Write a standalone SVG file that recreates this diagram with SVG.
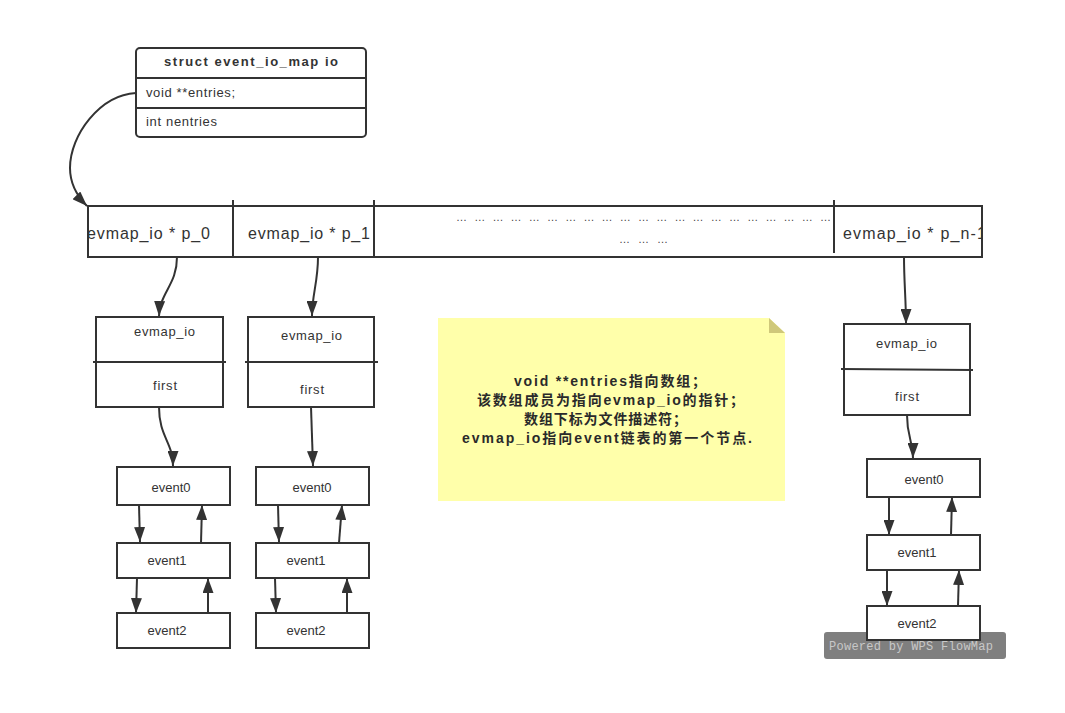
<svg xmlns="http://www.w3.org/2000/svg" width="1065" height="713" viewBox="0 0 1065 713">
<defs>
<style>
.box{fill:#fff;stroke:#333;stroke-width:2}
.ln{fill:none;stroke:#333;stroke-width:2}
.t{font-family:"Liberation Sans","Noto Sans CJK SC",sans-serif;fill:#333;font-size:13px}
.tb{font-weight:bold}
.nt{font-size:14px;fill:#2a2a2a}
.big{font-size:16px}
.mid{text-anchor:middle}
.dots{font-family:"Liberation Sans",sans-serif;fill:#444;font-size:11px}
.wm{font-family:"Liberation Mono",monospace;fill:#c8c8c8;font-size:12px}
.edge{fill:none;stroke:#333;stroke-width:2;marker-end:url(#ah)}
</style>
<marker id="ah" markerUnits="userSpaceOnUse" markerWidth="16" markerHeight="11" refX="15" refY="5.5" orient="auto">
<path d="M0,0 L15,5.5 L0,11 z" fill="#333"/>
</marker>
<clipPath id="arrclip"><rect x="89" y="207" width="892" height="49"/></clipPath>
</defs>
<rect x="0" y="0" width="1065" height="713" fill="#fff"/>

<g id="watermark">
<rect x="824" y="632" width="182" height="27" rx="3" fill="#7f7f7f"/>
<text class="wm" x="829" y="650" textLength="164" lengthAdjust="spacing">Powered by WPS FlowMap</text>
</g>

<g id="struct">
<rect class="box" x="136" y="48" width="230" height="89" rx="4"/>
<path class="ln" d="M136,78 L366,78 M136,108 L366,108"/>
<text class="t tb" x="164" y="66" textLength="174" lengthAdjust="spacing">struct event_io_map io</text>
<text class="t" x="146" y="97" textLength="89" lengthAdjust="spacing">void **entries;</text>
<text class="t" x="146" y="126" textLength="71" lengthAdjust="spacing">int nentries</text>
</g>

<g id="array">
<rect class="box" x="88" y="206" width="894" height="51"/>
<path class="ln" d="M233,200 L233,257 M374,200 L374,257 M834,200 L834,253"/>
<g clip-path="url(#arrclip)">
<text class="t big" x="87" y="239" textLength="123" lengthAdjust="spacing">evmap_io * p_0</text>
<text class="t big" x="248" y="239" textLength="122" lengthAdjust="spacing">evmap_io * p_1</text>
<text class="t big" x="843" y="239" textLength="143" lengthAdjust="spacing">evmap_io * p_n-1</text>
</g>
<text class="dots" x="456" y="221" textLength="375" lengthAdjust="spacing">… … … … … … … … … … … … … … … … … … … … …</text>
<text class="dots" x="619" y="243" textLength="49" lengthAdjust="spacing">… … …</text>
</g>

<g id="note">
<polygon points="438,318 769,318 785,333 785,501 438,501" fill="#ffffaa"/>
<polygon points="769,318 769,333 785,333" fill="#cfc87a"/>
<text class="t tb nt" x="514" y="386" textLength="192" lengthAdjust="spacing">void **entries指向数组；</text>
<text class="t tb nt" x="477" y="405" textLength="267" lengthAdjust="spacing">该数组成员为指向evmap_io的指针；</text>
<text class="t tb nt" x="524" y="424" textLength="163" lengthAdjust="spacing">数组下标为文件描述符；</text>
<text class="t tb nt" x="462" y="443" textLength="290" lengthAdjust="spacing">evmap_io指向event链表的第一个节点.</text>
</g>

<g id="evmap0">
<rect class="box" x="96" y="317" width="127" height="90"/>
<path class="ln" d="M93,362 L226,362"/>
<text class="t" x="134" y="336" textLength="61" lengthAdjust="spacing">evmap_io</text>
<text class="t" x="153" y="390" textLength="24" lengthAdjust="spacing">first</text>
</g>
<g id="evmap1">
<rect class="box" x="248" y="317" width="126" height="90"/>
<path class="ln" d="M245,362 L378,362"/>
<text class="t" x="281" y="340" textLength="61" lengthAdjust="spacing">evmap_io</text>
<text class="t" x="300" y="394" textLength="24" lengthAdjust="spacing">first</text>
</g>
<g id="evmapn">
<rect class="box" x="844" y="324" width="126" height="91"/>
<path class="ln" d="M841,369 L973,370"/>
<text class="t" x="876" y="348" textLength="61" lengthAdjust="spacing">evmap_io</text>
<text class="t" x="895" y="401" textLength="24" lengthAdjust="spacing">first</text>
</g>

<g id="c0e0"><rect class="box" x="117" y="467" width="113" height="38"/><text class="t mid" x="171" y="492">event0</text></g>
<g id="c0e1"><rect class="box" x="117" y="543" width="113" height="35"/><text class="t mid" x="167" y="565">event1</text></g>
<g id="c0e2"><rect class="box" x="117" y="613" width="113" height="35"/><text class="t mid" x="167" y="635">event2</text></g>

<g id="c1e0"><rect class="box" x="256" y="467" width="113" height="38"/><text class="t mid" x="312" y="492">event0</text></g>
<g id="c1e1"><rect class="box" x="256" y="543" width="113" height="35"/><text class="t mid" x="306" y="565">event1</text></g>
<g id="c1e2"><rect class="box" x="256" y="613" width="113" height="35"/><text class="t mid" x="306" y="635">event2</text></g>

<g id="cne0"><rect class="box" x="867" y="459" width="113" height="38"/><text class="t mid" x="924" y="484">event0</text></g>
<g id="cne1"><rect class="box" x="867" y="535" width="113" height="35"/><text class="t mid" x="917" y="557">event1</text></g>
<g id="cne2"><rect class="box" x="867" y="606" width="113" height="34"/><text class="t mid" x="917" y="628">event2</text></g>

<g id="connectors">
<path class="edge" d="M136,93 C100,95 70,135 70,168 C70,185 78,197 87,206"/>
<path class="edge" d="M177,257 C177,285 160,292 159,316"/>
<path class="edge" d="M318,257 C318,282 312,295 312,316"/>
<path class="edge" d="M904,257 C904,282 906,300 906,324"/>
<path class="edge" d="M159,407 C159,437 173,442 173,466"/>
<path class="edge" d="M311,407 L313,466"/>
<path class="edge" d="M907,415 C907,438 913,440 913,458"/>
<path class="edge" d="M139,505 L140,542"/>
<path class="edge" d="M201,543 L202,505"/>
<path class="edge" d="M137,578 L136,613"/>
<path class="edge" d="M208,613 L208,578"/>
<path class="edge" d="M278,505 L279,542"/>
<path class="edge" d="M339,543 L342,505"/>
<path class="edge" d="M275,578 L276,613"/>
<path class="edge" d="M347,613 L347,578"/>
<path class="edge" d="M889,497 L889,535"/>
<path class="edge" d="M951,535 L952,497"/>
<path class="edge" d="M887,570 L887,606"/>
<path class="edge" d="M958,606 L959,570"/>
</g>
</svg>
